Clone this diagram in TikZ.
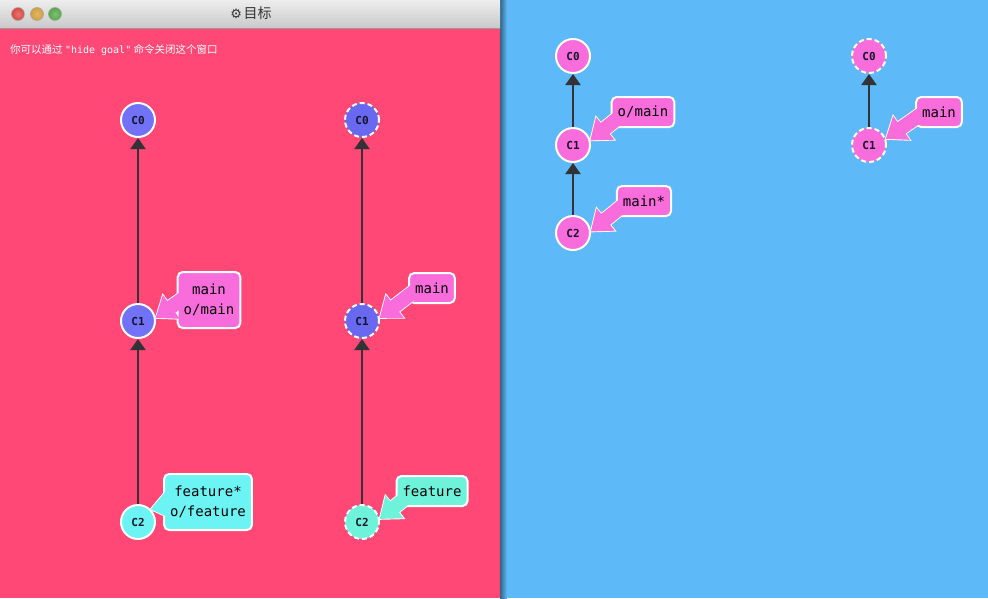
\documentclass[tikz,border=0pt]{standalone}
\usepackage{fontspec}
\setmonofont{DejaVu Sans Mono}
\newfontfamily\cjk{Noto Sans CJK SC}
\newfontfamily\dejavu{DejaVu Sans}
\usetikzlibrary{calc,arrows.meta}
\definecolor{pinkbg}{RGB}{255,72,117}
\definecolor{bluebg}{RGB}{93,185,247}
\definecolor{purp}{RGB}{114,114,248}
\definecolor{purpd}{RGB}{104,104,240}
\definecolor{cyanc}{RGB}{108,244,244}
\definecolor{aquac}{RGB}{110,242,218}
\definecolor{pinkl}{RGB}{248,108,220}
\definecolor{edgec}{RGB}{50,50,55}
\definecolor{txtc}{RGB}{20,20,40}
\tikzset{
  commit/.style={circle, minimum size=34pt, inner sep=0pt, draw=white, line width=2pt,
    font=\ttfamily\bfseries\fontsize{11}{11}\selectfont, text=txtc},
  ghost/.style={dash pattern=on 5pt off 3pt},
  branch/.style={rounded corners=5pt, draw=white, line width=2pt, inner xsep=6pt,
    font=\ttfamily\fontsize{14}{20}\selectfont, align=center, text=black, minimum height=30pt},
  boxonly/.style={branch, text opacity=0},
  textonly/.style={branch, draw=none, fill=none},
  parent/.style={draw=edgec, line width=2pt, -{Triangle[width=15pt,length=11pt]}},
  fat/.style={draw=white, line width=1.8pt, line join=miter}
}
% #1 colour, #2 start, #3 tip point, #4 draw options
\newcommand\fatpoly[4]{%
  \path[#4, fill=#1]
    ($(#2)!7pt!90:(#3)$) --
    ($(#3)!19pt!(#2)!7pt!90:(#3)$) --
    ($(#3)!19pt!(#2)!14.5pt!90:(#3)$) --
    (#3) --
    ($(#3)!19pt!(#2)!14.5pt!-90:(#3)$) --
    ($(#3)!19pt!(#2)!7pt!-90:(#3)$) --
    ($(#2)!7pt!-90:(#3)$) -- cycle;}
% #1 colour, #2 label coordinate, #3 arrow start, #4 tip, #5 box options, #6 text, #7 name
\newcommand\branchlabel[7]{%
  \fatpoly{#1}{#3}{#4}{fat}
  \node[boxonly, fill=#1, #5] (#7box) at (#2) {#6};
  \fatpoly{#1}{#3}{#4}{}
  \node[textonly, #5] (#7) at (#2) {#6};}
\begin{document}
\begin{tikzpicture}[x=1pt,y=-1pt]
\useasboundingbox (0,0) rectangle (988,598);
% panels
\fill[pinkbg] (0,0) rectangle (500,598);
\fill[bluebg] (500,0) rectangle (988,598);
\shade[left color=black!45!bluebg, right color=bluebg] (500,0) rectangle (507,598);
\shade[top color=white!93!black, bottom color=white!79!black] (0,0) rectangle (500,28);
\draw[white!60!black, line width=0.6pt] (0,28) -- (500,28);
% traffic lights
\definecolor{tlr}{RGB}{218,72,64}
\definecolor{tly}{RGB}{212,160,56}
\definecolor{tlg}{RGB}{84,170,72}
\shade[inner color=tlr!75!white, outer color=tlr, draw=black!35, line width=0.6pt] (18,14) circle (6.5pt);
\shade[inner color=tly!75!white, outer color=tly, draw=black!35, line width=0.6pt] (37,14) circle (6.5pt);
\shade[inner color=tlg!75!white, outer color=tlg, draw=black!35, line width=0.6pt] (55,14) circle (6.5pt);
\node[text=black!80, inner sep=0pt] (title) at (251,13) {{\dejavu\fontsize{13}{13}\selectfont ⚙}\,{\cjk\fontsize{14}{14}\selectfont 目标}};
\node[anchor=west, text=white, inner sep=0pt] (hint) at (10,50)
  {\cjk\fontsize{10.5}{11}\selectfont 你可以通过 {\ttfamily\fontsize{10}{11}\selectfont "hide goal"} 命令关闭这个窗口};

% left tree (goal, local)
\node[commit, fill=purp] (a0) at (138,120) {C0};
\node[commit, fill=purp] (a1) at (138,321) {C1};
\node[commit, fill=cyanc] (a2) at (138,522) {C2};
\draw[parent] (a2) -- (a1);
\draw[parent] (a1) -- (a0);
% left tree (goal, remote)
\node[commit, ghost, fill=purpd] (b0) at (362,120) {C0};
\node[commit, ghost, fill=purpd] (b1) at (362,321) {C1};
\node[commit, ghost, fill=aquac] (b2) at (362,522) {C2};
\draw[parent] (b2) -- (b1);
\draw[parent] (b1) -- (b0);
% right: current local
\node[commit, fill=pinkl] (c0) at (573,56) {C0};
\node[commit, fill=pinkl] (c1) at (573,145) {C1};
\node[commit, fill=pinkl] (c2) at (573,233) {C2};
\draw[parent] (c2) -- (c1);
\draw[parent] (c1) -- (c0);
% right: current remote
\node[commit, ghost, fill=pinkl] (d0) at (869,56) {C0};
\node[commit, ghost, fill=pinkl] (d1) at (869,145) {C1};
\draw[parent] (d1) -- (d0);

% branch labels: positions and arrow start points
\coordinate (la) at (209,300); \coordinate (sa) at (198,288);
\coordinate (lf) at (208,502); \coordinate (sf) at (200,498);
\coordinate (lb) at (432,288); \coordinate (sb) at (425,283);
\coordinate (lg) at (432,491); \coordinate (sg) at (418,488);
\coordinate (lo) at (643,112); \coordinate (so) at (628,110);
\coordinate (lm) at (644,201); \coordinate (sm) at (632,198);
\coordinate (ld) at (939,112); \coordinate (sd) at (930,108);
\branchlabel{pinkl}{la}{sa}{a1.10}{minimum height=56pt}{main\\o/main}{na}
\branchlabel{cyanc}{lf}{sf}{a2.45}{minimum height=56pt}{feature*\\o/feature}{nf}
\branchlabel{pinkl}{lb}{sb}{b1.10}{}{main}{nb}
\branchlabel{aquac}{lg}{sg}{b2.10}{}{feature}{ng}
\branchlabel{pinkl}{lo}{so}{c1.15}{}{o/main}{no}
\branchlabel{pinkl}{lm}{sm}{c2.5}{}{main*}{nm}
\branchlabel{pinkl}{ld}{sd}{d1.20}{}{main}{nd}
\end{tikzpicture}
\end{document}
